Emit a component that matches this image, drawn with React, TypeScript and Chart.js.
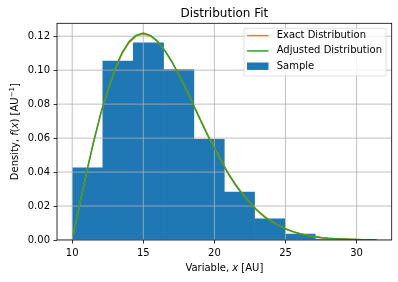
import React, { useEffect, useRef } from 'react';
import { Chart, registerables } from 'chart.js';

Chart.register(...registerables);

// ---- data ----
const curveX = [10.06, 10.5, 11, 11.5, 12, 12.5, 13, 13.5, 14, 14.5, 15, 15.5, 16, 16.5, 17, 17.5, 18, 18.5, 19, 19.5,
  20, 20.5, 21, 21.5, 22, 22.5, 23, 23.5, 24, 24.5, 25, 25.5, 26, 26.5, 27, 27.5, 28, 28.5, 29, 29.5, 30, 30.5, 31, 31.4];
const exactY = [0.0024, 0.0199, 0.03921, 0.05736, 0.07385, 0.08825, 0.10023, 0.10958, 0.11618, 0.12006, 0.12131, 0.12014,
  0.11682, 0.11169, 0.10509, 0.0974, 0.08897, 0.08016, 0.07124, 0.0625, 0.05413, 0.04631, 0.03912, 0.03266, 0.02694,
  0.02197, 0.01771, 0.01411, 0.01111, 0.00865, 0.00667, 0.00508, 0.00382, 0.00285, 0.0021, 0.00153, 0.0011, 0.00079,
  0.00056, 0.00039, 0.00027, 0.00018, 0.00012, 0.00009];
const adjustedY = [0.00242, 0.02006, 0.03952, 0.0578, 0.0744, 0.08888, 0.10089, 0.11025, 0.11682, 0.12064, 0.1218, 0.12052,
  0.11709, 0.11184, 0.10511, 0.0973, 0.08877, 0.07987, 0.07088, 0.06209, 0.0537, 0.04586, 0.03867, 0.03223, 0.02654,
  0.0216, 0.01738, 0.01381, 0.01085, 0.00843, 0.00649, 0.00493, 0.0037, 0.00275, 0.00202, 0.00147, 0.00105, 0.00075,
  0.00053, 0.00037, 0.00026, 0.00017, 0.00011, 0.00008];
const binCenters = [11.09, 13.22, 15.36, 17.49, 19.63, 21.76, 23.9, 26.03, 28.17, 30.3];
const binHeights = [0.0425, 0.1053, 0.1161, 0.1004, 0.0593, 0.0282, 0.0124, 0.0035, 0.0005, 0.0002];
const xTickValues = [10, 15, 20, 25, 30];
const yTickValues = [0, 0.02, 0.04, 0.06, 0.08, 0.1, 0.12];
const seriesLabels = ['Exact Distribution', 'Adjusted Distribution', 'Sample'];
const seriesColors = ['#ff7f0e', '#2ca02c', '#1f77b4'];
const titleText = 'Distribution Fit';

const FONT = 'DejaVu Sans';

type Run = { t: string; f: string; dy?: number };

function drawRuns(ctx: CanvasRenderingContext2D, runs: Run[], cx: number, y: number) {
  let total = 0;
  const widths = runs.map((r) => {
    ctx.font = r.f;
    const w = ctx.measureText(r.t).width;
    total += w;
    return w;
  });
  let x = cx - total / 2;
  runs.forEach((r, i) => {
    ctx.font = r.f;
    ctx.fillText(r.t, x, y + (r.dy || 0));
    x += widths[i];
  });
}

const mplPlugin = {
  id: 'mplDecor',
  afterDatasetDraw(chart: any, args: any) {
    if (args.index !== 2) return;
    const { ctx, chartArea: a, scales } = chart;
    ctx.save();
    ctx.beginPath();
    ctx.rect(a.left, a.top, a.right - a.left, a.bottom - a.top);
    ctx.clip();
    ctx.strokeStyle = '#b0b0b0';
    ctx.lineWidth = 0.8;
    ctx.beginPath();
    for (const v of xTickValues) {
      const px = scales.x.getPixelForValue(v);
      ctx.moveTo(px, a.top);
      ctx.lineTo(px, a.bottom);
    }
    for (const v of yTickValues) {
      const py = scales.y.getPixelForValue(v);
      ctx.moveTo(a.left, py);
      ctx.lineTo(a.right, py);
    }
    ctx.stroke();
    ctx.restore();
  },
  afterDraw(chart: any) {
    const { ctx, chartArea: a } = chart;
    ctx.save();
    // frame
    ctx.strokeStyle = '#000';
    ctx.lineWidth = 0.8;
    ctx.strokeRect(a.left, a.top, a.right - a.left, a.bottom - a.top);

    const cx = (a.left + a.right) / 2;
    ctx.fillStyle = '#000';
    ctx.textBaseline = 'alphabetic';
    ctx.textAlign = 'left';
    // title
    drawRuns(ctx, [{ t: titleText, f: `12px "${FONT}"` }], cx, 17);
    // x label
    drawRuns(ctx, [
      { t: 'Variable, ', f: `10px "${FONT}"` },
      { t: 'x', f: `italic 10px "${FONT}"` },
      { t: ' [AU]', f: `10px "${FONT}"` },
    ], cx, 270.5);
    // y label
    ctx.save();
    ctx.translate(18.3, (a.top + a.bottom) / 2);
    ctx.rotate(-Math.PI / 2);
    drawRuns(ctx, [
      { t: 'Density, ', f: `10px "${FONT}"` },
      { t: 'f', f: `italic 10px "${FONT}"` },
      { t: '(', f: `10px "${FONT}"` },
      { t: 'x', f: `italic 10px "${FONT}"` },
      { t: ')', f: `10px "${FONT}"` },
      { t: ' [AU', f: `10px "${FONT}"` },
      { t: '\u22121', f: `7px "${FONT}"`, dy: -4 },
      { t: ']', f: `10px "${FONT}"` },
    ], 0, 0);
    ctx.restore();

    // legend
    const bx = 244, by = 28.3, bw = 142, bh = 47.7, r = 2;
    ctx.beginPath();
    ctx.moveTo(bx + r, by);
    ctx.lineTo(bx + bw - r, by);
    ctx.quadraticCurveTo(bx + bw, by, bx + bw, by + r);
    ctx.lineTo(bx + bw, by + bh - r);
    ctx.quadraticCurveTo(bx + bw, by + bh, bx + bw - r, by + bh);
    ctx.lineTo(bx + r, by + bh);
    ctx.quadraticCurveTo(bx, by + bh, bx, by + bh - r);
    ctx.lineTo(bx, by + r);
    ctx.quadraticCurveTo(bx, by, bx + r, by);
    ctx.closePath();
    ctx.fillStyle = 'rgba(255,255,255,0.8)';
    ctx.fill();
    ctx.strokeStyle = 'rgba(204,204,204,0.8)';
    ctx.lineWidth = 0.8;
    ctx.stroke();

    const rows = [35.6, 50.9, 66.2];
    ctx.font = `10px "${FONT}"`;
    ctx.textBaseline = 'middle';
    seriesLabels.forEach((lab, i) => {
      const y = rows[i];
      if (i < 2) {
        ctx.strokeStyle = seriesColors[i];
        ctx.lineWidth = 1.5;
        ctx.beginPath();
        ctx.moveTo(247, y);
        ctx.lineTo(268.5, y);
        ctx.stroke();
      } else {
        ctx.fillStyle = seriesColors[i];
        ctx.fillRect(247, y - 3.7, 21.5, 7.4);
      }
      ctx.fillStyle = '#000';
      ctx.fillText(lab, 276.7, y);
    });
    ctx.restore();
  },
};

export default function App() {
  const ref = useRef<HTMLCanvasElement | null>(null);
  useEffect(() => {
    if (!ref.current) return;
    const tickFont = { family: FONT, size: 10 };
    const chart = new Chart(ref.current, {
      type: 'bar',
      data: {
        datasets: [
          {
            type: 'line',
            label: seriesLabels[0],
            data: curveX.map((x, i) => ({ x, y: exactY[i] })),
            borderColor: seriesColors[0],
            borderWidth: 1.5,
            pointRadius: 0,
            fill: false,
            order: 1,
          },
          {
            type: 'line',
            label: seriesLabels[1],
            data: curveX.map((x, i) => ({ x, y: adjustedY[i] })),
            borderColor: seriesColors[1],
            borderWidth: 1.5,
            pointRadius: 0,
            fill: false,
            order: 0,
          },
          {
            type: 'bar',
            label: seriesLabels[2],
            data: binCenters.map((x, i) => ({ x, y: binHeights[i] })),
            backgroundColor: seriesColors[2],
            borderWidth: 0,
            barPercentage: 1,
            categoryPercentage: 1,
            order: 2,
          },
        ] as any,
      },
      options: {
        responsive: false,
        animation: false,
        devicePixelRatio: 1,
        layout: { padding: { top: 23.3, right: 6.3, left: 0, bottom: 0 } },
        plugins: { legend: { display: false }, tooltip: { enabled: false }, title: { display: false } },
        scales: {
          x: {
            type: 'linear',
            min: 8.93,
            max: 32.47,
            offset: false,
            grid: { display: true, offset: false, drawOnChartArea: false, drawTicks: true, tickLength: 3.5, tickColor: '#000', tickWidth: 0.8 },
            border: { display: false },
            ticks: { font: tickFont, color: '#000', padding: 3.5, maxRotation: 0, autoSkip: false },
            afterBuildTicks: (s: any) => { s.ticks = xTickValues.map((v) => ({ value: v })); },
            afterFit: (s: any) => { s.height = 42; },
          },
          y: {
            type: 'linear',
            min: 0,
            max: 0.1276,
            grid: { display: true, drawOnChartArea: false, drawTicks: true, tickLength: 3.5, tickColor: '#000', tickWidth: 0.8 },
            border: { display: false },
            ticks: { font: tickFont, color: '#000', padding: 3.5, callback: (v: any) => Number(v).toFixed(2) },
            afterBuildTicks: (s: any) => { s.ticks = yTickValues.map((v) => ({ value: v })); },
            afterFit: (s: any) => { s.width = 57; },
          },
        },
      } as any,
      plugins: [mplPlugin],
    });
    return () => chart.destroy();
  }, []);
  return (
    <div style={{ position: 'fixed', left: 0, top: 0, width: 398, height: 282, background: '#fff' }}>
      <canvas ref={ref} width={398} height={282} style={{ display: 'block' }} />
    </div>
  );
}
